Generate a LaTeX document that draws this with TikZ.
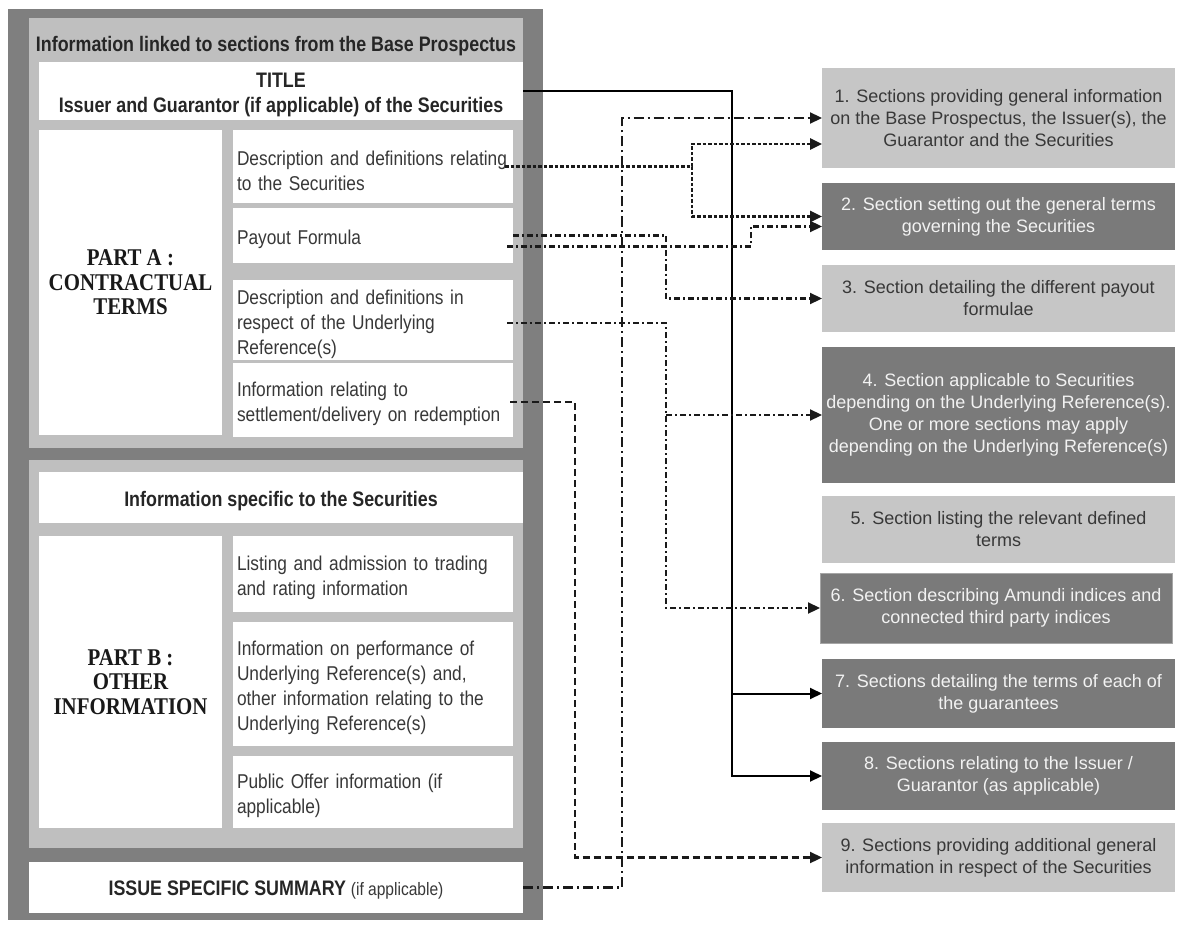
\documentclass[tikz,border=0pt]{standalone}
\usepackage{fontspec}
\setmainfont{Liberation Sans}
\newfontfamily\nsans[FakeStretch=0.865]{Liberation Sans}
\newfontfamily\hsans[FakeStretch=0.85]{Liberation Sans}
\newfontfamily\nserif[FakeStretch=0.87]{Liberation Serif}
\usetikzlibrary{arrows.meta,calc}
\definecolor{framec}{HTML}{7F7F7F}
\definecolor{panelc}{HTML}{BFBFBF}
\definecolor{secl}{HTML}{C6C6C6}
\definecolor{secd}{HTML}{7A7A7A}
\definecolor{txtc}{HTML}{383838}
\definecolor{lnc}{HTML}{1A1A1A}
\tikzset{
  every node/.style={inner sep=0pt, outer sep=0pt},
  whitebox/.style={fill=white, draw=none},
  smallbox/.style={whitebox, minimum width=280pt, text width=272pt, inner xsep=4pt, align=left,
     font=\nsans\fontsize{20}{25}\selectfont, text=txtc,
     execute at begin node={\rule{0pt}{23pt}}},
  labelbox/.style={whitebox, minimum width=183pt, align=center,
     font=\nserif\bfseries\fontsize{24}{24.5}\selectfont, text=black!90},
  widebox/.style={whitebox, align=center, font=\hsans\bfseries\fontsize{21}{25}\selectfont, text=black!85},
  secbox/.style={minimum width=353pt, align=center, font=\fontsize{18}{22}\selectfont},
  seclight/.style={secbox, fill=secl, text=txtc},
  secdark/.style={secbox, fill=secd, text=white!95!black},
  tip/.style={-{Triangle[length=12pt,width=11pt]}},
  solidc/.style={tip, draw=black, line width=2pt},
  dotc/.style={tip, draw=lnc, line width=2.6pt, dash pattern=on 3.5pt off 2pt},
  ddlong/.style={tip, draw=lnc, line width=2.2pt, dash pattern=on 10pt off 4pt on 2pt off 4pt},
  ddshort/.style={tip, draw=lnc, line width=2.2pt, dash pattern=on 6pt off 3pt on 2pt off 3pt},
  dashc/.style={tip, draw=lnc, line width=2.2pt, dash pattern=on 7pt off 4pt},
}
\begin{document}
\hyphenpenalty=10000
\exhyphenpenalty=10000
\begin{tikzpicture}[x=1pt,y=-1pt]
\useasboundingbox (0,0) rectangle (1177,925);
\fill[white] (0,0) rectangle (1177,925);
% left frame and panels
\fill[framec] (8,9) rectangle (543,920);
\fill[panelc] (29,18) rectangle (523,448);
\fill[panelc] (29,460) rectangle (523,848);
\node[font=\hsans\bfseries\fontsize{21}{25}\selectfont, text=black!85] (head) at (276,46) {Information linked to sections from the Base Prospectus};
\node[widebox, minimum width=484pt, minimum height=58pt] (title) at (281,91)
  {\rule{0pt}{23pt}TITLE\\Issuer and Guarantor (if applicable) of the Securities};
\node[labelbox, minimum height=305pt] (parta) at (130.5,282.5) {PART A :\\CONTRACTUAL\\TERMS};
\node[smallbox, minimum height=73pt] (lb1) at (373,166.5) {Description and definitions relating\\to the Securities};
\node[smallbox, minimum height=55pt] (lb2) at (373,235.5) {Payout Formula};
\node[smallbox, minimum height=80pt] (lb3) at (373,320) {Description and definitions in\\respect of the Underlying\\Reference(s)};
\node[smallbox, minimum height=74pt] (lb4) at (373,400) {Information relating to\\settlement/delivery on redemption};
\node[widebox, minimum width=484pt, minimum height=51pt] (spec) at (281,497.5) {\rule{0pt}{23pt}Information specific to the Securities};
\node[labelbox, minimum height=292pt] (partb) at (130.5,682) {PART B :\\OTHER\\INFORMATION};
\node[smallbox, minimum height=76pt] (lb5) at (373,574) {Listing and admission to trading\\and rating information};
\node[smallbox, minimum height=124pt] (lb6) at (373,684) {Information on performance of\\Underlying Reference(s) and,\\other information relating to the\\Underlying Reference(s)};
\node[smallbox, minimum height=72pt] (lb7) at (373,792) {Public Offer information (if\\applicable)};
\node[widebox, minimum width=494pt, minimum height=51pt] (issue) at (276,887.5)
  {\rule{0pt}{19pt}ISSUE SPECIFIC SUMMARY {\mdseries\nsans\fontsize{18}{22}\selectfont\color{txtc}(if applicable)}};
% right sections
\node[seclight, minimum height=100pt] (s1) at (998.5,118) {1. Sections providing general information\\on the Base Prospectus, the Issuer(s), the\\Guarantor and the Securities};
\node[secdark, minimum height=67pt] (s2) at (998.5,216.5) {2. Section setting out the general terms\\governing the Securities};
\node[seclight, minimum height=67pt] (s3) at (998.5,298.5) {3. Section detailing the different payout\\formulae};
\node[secdark, minimum height=136pt] (s4) at (998.5,415) {4. Section applicable to Securities\\depending on the Underlying Reference(s).\\One or more sections may apply\\depending on the Underlying Reference(s)};
\node[seclight, minimum height=67pt] (s5) at (998.5,529.5) {5. Section listing the relevant defined\\terms};
\node[secdark, minimum height=70pt, minimum width=352pt, draw=black!35, line width=0.8pt] (s6) at (996,608) {6. Section describing Amundi indices and\\connected third party indices};
\node[secdark, minimum height=69pt] (s7) at (998.5,693.5) {7. Sections detailing the terms of each of\\the guarantees};
\node[secdark, minimum height=68pt] (s8) at (998.5,776) {8. Sections relating to the Issuer /\\Guarantor (as applicable)};
\node[seclight, minimum height=69pt] (s9) at (998.5,857.5) {9. Sections providing additional general\\information in respect of the Securities};
% junction columns
\coordinate (jdash) at (575,0);
\coordinate (jdd) at (622,0);
\coordinate (jpa) at (666,0);
\coordinate (jdot) at (692,0);
\coordinate (jsol) at (732,0);
\coordinate (jpb) at (751,0);
% connectors
\draw[solidc] (title.east) -| (jsol |- s8.west) -- (s8.west);
\draw[solidc] (jsol |- s7.west) -- (s7.west);
\draw[ddlong] (issue.east) -| (jdd |- s1.west) -- (s1.west);
\draw[ddshort] (lb2.east) -| (jpa |- s3.west) -- (s3.west);
\draw[ddshort] ($(lb2.east)+(-6,11)$) -| ($(jpb |- s2.west)+(0,10)$) -- ($(s2.west)+(0,10)$);
\draw[ddshort] ($(lb3.east)+(-6,3)$) -| (jpa |- s6.west) -- (s6.west);
\draw[ddshort] (jpa |- s4.west) -- (s4.west);
\draw[dashc] ($(lb4.east)+(-3,2)$) -| (jdash |- s9.west) -- (s9.west);
\draw[dotc] ($(lb1.east)+(-8,0)$) -| (jdot |- s2.west) -- (s2.west);
\draw[dotc] (jdot |- lb1.east) |- ($(s1.west)+(0,26)$);
\end{tikzpicture}
\end{document}
